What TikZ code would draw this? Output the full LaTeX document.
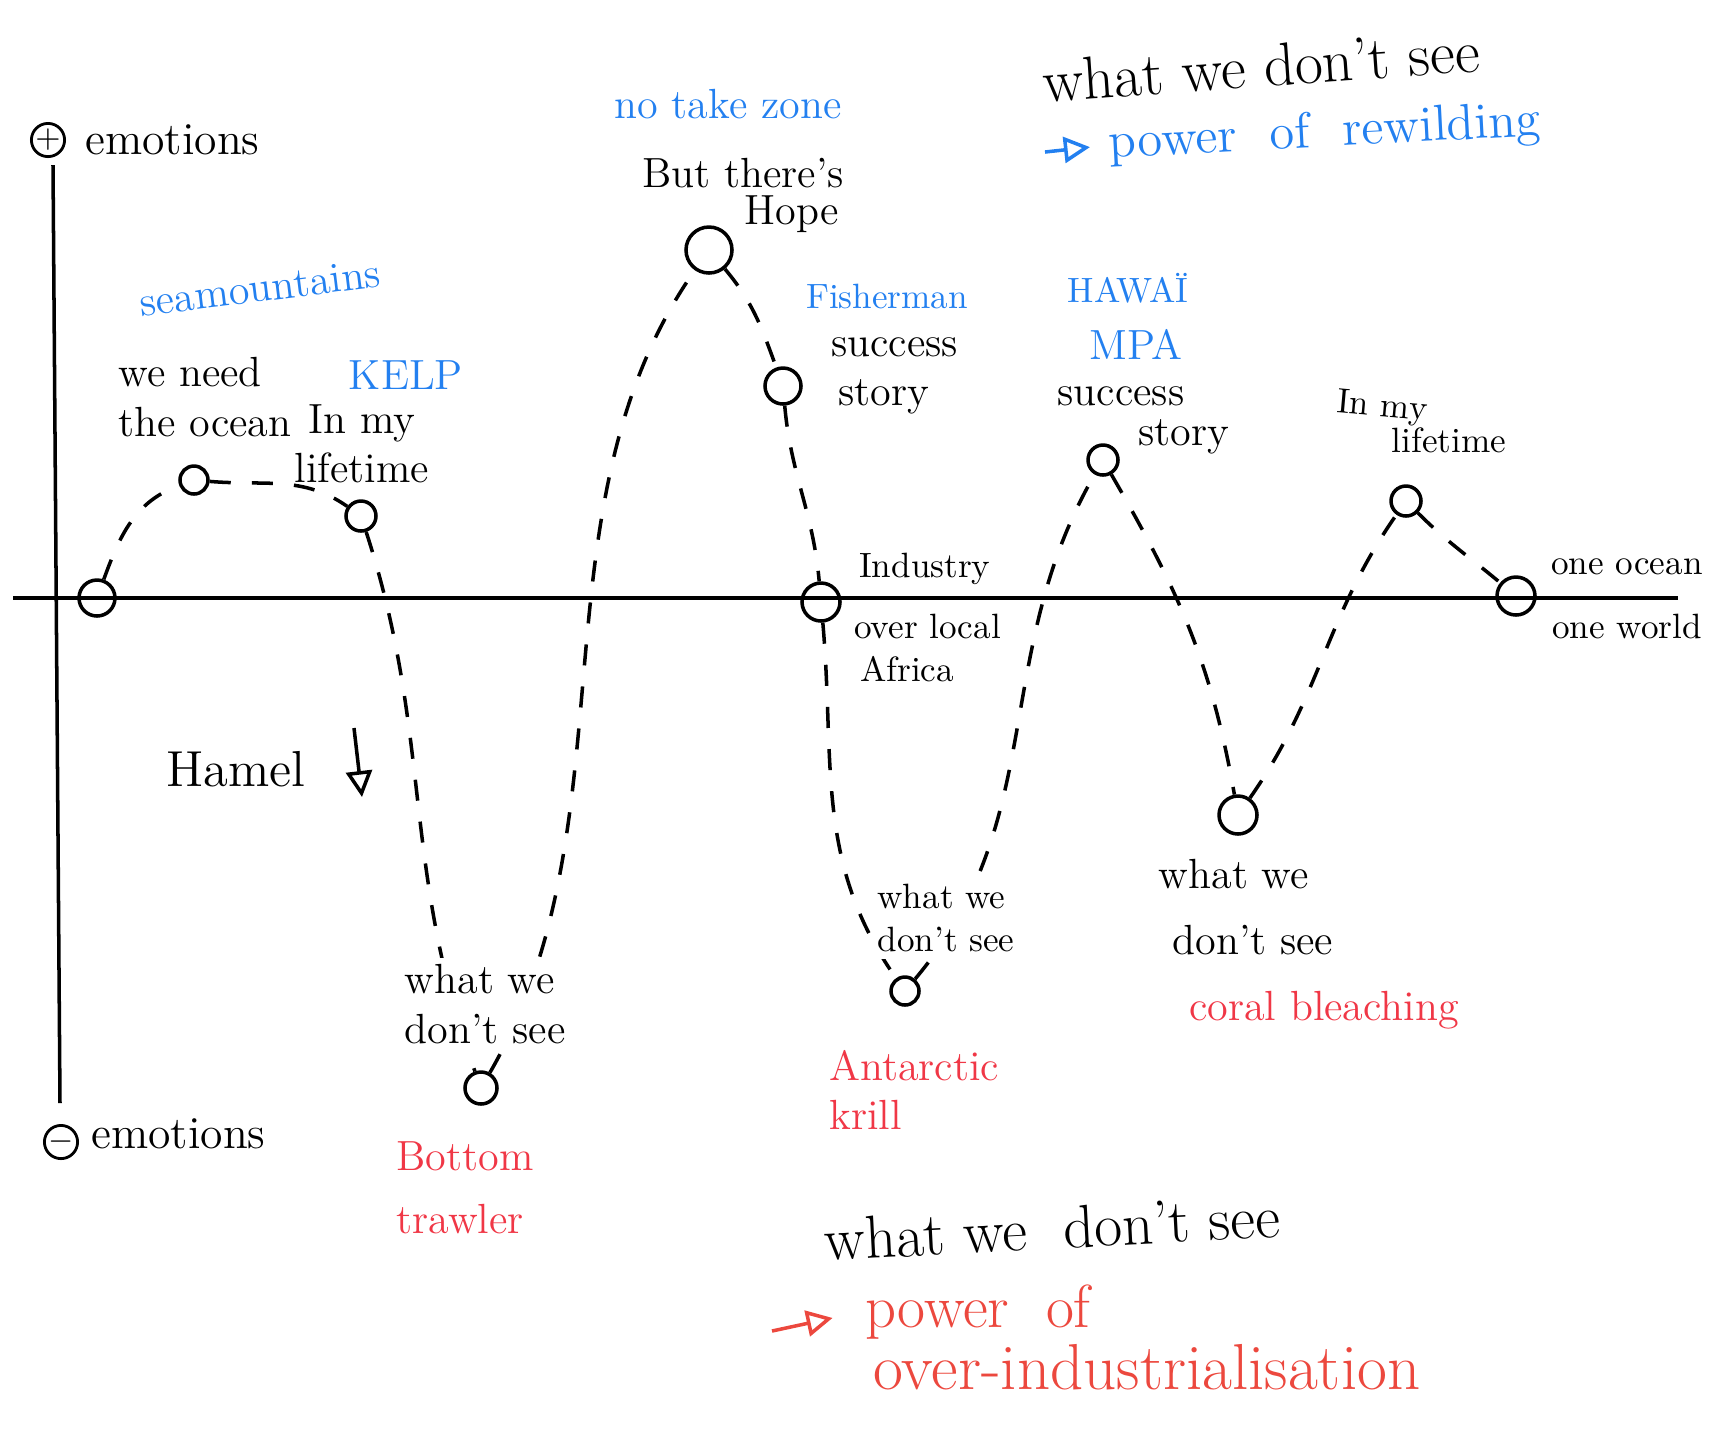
\documentclass[tikz,border=0pt]{standalone}
\usetikzlibrary{arrows.meta}
\definecolor{skyink}{RGB}{35,128,240}
\definecolor{redink}{RGB}{240,55,70}
\definecolor{flameink}{RGB}{236,72,62}
\tikzset{
  dip/.style={circle, draw, line width=1pt, inner sep=0pt, minimum size=#1},
  dip/.default=3.4mm,
  wave/.style={line width=1pt, dash pattern=on 6pt off 6pt},
  note/.style={align=left, font=\large, inner sep=1pt},
  blue note/.style={note, text=skyink},
  red note/.style={note, text=redink},
  gap note/.style={note, fill=white, inner sep=2pt},
  sign/.style={circle, draw, thick, inner sep=0pt, minimum size=2.5mm, font=\small},
  pen tip/.style={-{Triangle[open, length=2.6mm, width=2.6mm]}},
}
\begin{document}
\begin{tikzpicture}[x=0.1mm, y=0.1mm, line width=1pt]
    \useasboundingbox (0,0) rectangle (1722,-1438);

    % Axes
    \coordinate (xl) at (13,-598);
    \coordinate (xr) at (1678,-598);
    \coordinate (yt) at (53,-165);
    \coordinate (yb) at (60,-1103);
    \draw (xl) -- (xr);
    \draw (yt) -- (yb);
    \node[sign] (plus) at (48,-140) {$+$};
    \node[note, font=\fontsize{13}{15}\selectfont, anchor=west] (emoup) at (80,-140) {emotions};
    \node[sign] (minus) at (61,-1142) {$-$};
    \node[note, font=\fontsize{13}{15}\selectfont, anchor=west] (emodown) at (86,-1134) {emotions};

    % Moments along the story
    \node[dip=3.6mm] (start) at (97,-598) {};
    \node[dip=2.8mm] (needocean) at (194,-480) {};
    \node[dip=3.0mm] (kelp) at (361,-516) {};
    \node[dip=3.2mm] (trawler) at (481,-1088) {};
    \node[dip=4.6mm] (hope) at (709,-250) {};
    \node[dip=3.6mm] (fisher) at (783,-386) {};
    \node[dip=3.8mm] (industry) at (821,-602) {};
    \node[dip=2.8mm] (krill) at (905,-991) {};
    \node[dip=3.0mm] (hawaii) at (1103,-460) {};
    \node[dip=3.8mm] (coral) at (1238,-815) {};
    \node[dip=3.0mm] (lifetime) at (1406,-501) {};
    \node[dip=3.8mm] (oneocean) at (1516,-596) {};

    % Dashed path
    \draw[wave] (start) to[out=70, in=200] (needocean);
    \draw[wave] (needocean) to[out=-5, in=145] (kelp);
    \draw[wave] (kelp) to[out=-72, in=110] (trawler);
    \draw[wave] (trawler) to[out=60, in=235, looseness=0.9] (hope);
    \draw[wave] (hope) to[out=-50, in=110] (fisher);
    \draw[wave] (fisher) to[out=-85, in=95] (industry);
    \draw[wave] (industry) to[out=-85, in=125] (krill);
    \draw[wave] (krill) to[out=50, in=240] (hawaii);
    \draw[wave] (hawaii) to[out=-60, in=100] (coral);
    \draw[wave] (coral) to[out=55, in=235] (lifetime);
    \draw[wave] (lifetime) to[out=-45, in=140] (oneocean);

    % Labels above the line
    \node[blue note, rotate=7] (seamount) at (260,-288) {seamountains};
    \node[note] (weneed) at (205,-397) {we need\\ the ocean};
    \node[blue note] (kelptag) at (406,-375) {KELP};
    \node[note] (inmy) at (362,-444) {\ In my\\ lifetime};
    \node[blue note] (notake) at (728,-104) {no take zone};
    \node[note] (buttag) at (743,-173) {But there's};
    \node[note] (hopetag) at (792,-214) {Hope};
    \node[blue note, font=\normalsize] (fishertag) at (887,-296) {Fisherman};
    \node[note, anchor=west] (success) at (826,-376) {success\\ \,story};
    \node[note, anchor=west, font=\normalsize] (indtag) at (854,-569) {Industry};
    \node[note, anchor=west, font=\normalsize] (overlocal) at (849,-648) {over local\\ \,Africa};
    \node[blue note, font=\normalsize] (hawaiitag) at (1128,-288) {HAWAÏ};
    \node[blue note] (mpa) at (1136,-344) {MPA};
    \node[note] (success2) at (1121,-396) {success};
    \node[note] (story2) at (1184,-437) {story};
    \node[note, font=\normalsize, rotate=-5] (inmy2) at (1382,-408) {In my};
    \node[note, font=\normalsize] (lifetime2) at (1449,-440) {lifetime};
    \node[note, font=\normalsize] (ocean1) at (1627,-567) {one ocean};
    \node[note, font=\normalsize] (world1) at (1627,-626) {one world};

    % Labels below the line
    \node[note, font=\Large] (hamel) at (236,-769) {Hamel};
    \coordinate (hamtop) at (354,-728);
    \coordinate (hambot) at (362,-797);
    \draw[pen tip] (hamtop) -- (hambot);
    \node[gap note] (wwds1) at (485,-1004) {what we\\ don't see};
    \node[red note] (bottomtag) at (465,-1188) {Bottom\\[4pt] trawler};
    \node[gap note, font=\normalsize] (wwds2) at (946,-918) {what we\\ don't see};
    \node[red note, anchor=west] (krilltag) at (824,-1090) {Antarctic\\ krill};
    \node[note] (wwds3) at (1246,-907) {what we\\[5pt] \ don't see};
    \node[red note] (coraltag) at (1324,-1010) {coral bleaching};

    % Conclusions
    \node[note, font=\LARGE, rotate=4] (topsee) at (1261,-66) {what we\ don't see};
    \node[blue note, font=\Large, rotate=3] (rewild) at (1325,-134) {power\ \ of\ \ rewilding};
    \coordinate (rewildarr) at (1045,-152);
    \draw[skyink, pen tip, shorten >=4pt] (rewildarr) -- (rewild.west);
    \node[note, font=\LARGE, rotate=3] (botsee) at (1052,-1228) {what we\ \ don't see};
    \node[note, font=\LARGE, text=flameink] (powerof) at (978,-1312) {power\ \ of};
    \coordinate (powerarr) at (772,-1331);
    \draw[flameink, pen tip, shorten >=8pt] (powerarr) -- (powerof.west);
    \node[note, font=\fontsize{18.5}{22}\selectfont, text=flameink] (overind) at (1147,-1367) {over-industrialisation};
\end{tikzpicture}
\end{document}
